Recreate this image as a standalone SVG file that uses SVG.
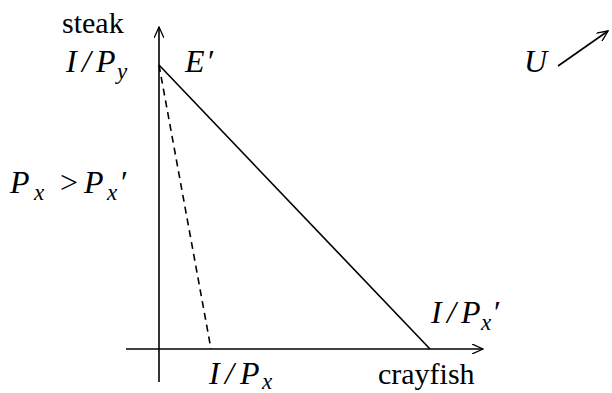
<svg xmlns="http://www.w3.org/2000/svg" width="612" height="393" viewBox="0 0 612 393">
<defs>
<marker id="ah" viewBox="0 0 12 10" refX="11" refY="5" markerWidth="12" markerHeight="10" markerUnits="userSpaceOnUse" orient="auto">
<path d="M0,0 L11,5 L0,10" fill="none" stroke="#000" stroke-width="1.3"/>
</marker>
<style>
.ln{stroke:#000;stroke-width:1.6;fill:none}
</style>
</defs>
<rect width="612" height="393" fill="#fff"/>
<g id="connectors">
<line class="ln" x1="159" y1="382" x2="159" y2="27" marker-end="url(#ah)"/>
<line class="ln" x1="126" y1="349" x2="483" y2="349" marker-end="url(#ah)"/>
<line class="ln" x1="159" y1="65" x2="430" y2="349"/>
<line class="ln" x1="159" y1="65" x2="211" y2="349" stroke-dasharray="7,5"/>
<line class="ln" x1="558" y1="66" x2="608" y2="31" marker-end="url(#ah)"/>
</g>
<g font-family="Liberation Serif, Times New Roman, serif" font-size="30" fill="#000">
<g id="steak"><text x="62" y="33">steak</text></g>
<g id="IPy"><text font-style="italic" font-size="32" x="66" y="72">I<tspan x="82">/</tspan><tspan x="96">P</tspan><tspan font-size="23" x="117" y="79">y</tspan></text></g>
<g id="Eprime"><text font-style="italic" font-size="32" x="185" y="72">E<tspan x="206">′</tspan></text></g>
<g id="U"><text font-style="italic" font-size="32" x="524" y="72">U</text></g>
<g id="ineq"><text font-style="italic" font-size="32" x="10" y="193">P<tspan font-size="23" x="34" y="200">x</tspan><tspan x="60" y="193" font-style="normal">&gt;</tspan><tspan x="84">P</tspan><tspan font-size="23" x="107" y="200">x</tspan><tspan x="119" y="193">′</tspan></text></g>
<g id="IPxprime"><text font-style="italic" font-size="32" x="431" y="323">I<tspan x="447">/</tspan><tspan x="461">P</tspan><tspan font-size="23" x="481" y="330">x</tspan><tspan x="492" y="323">′</tspan></text></g>
<g id="IPx"><text font-style="italic" font-size="32" x="209" y="384">I<tspan x="225">/</tspan><tspan x="240">P</tspan><tspan font-size="23" x="262" y="389">x</tspan></text></g>
<g id="crayfish"><text x="378" y="384">crayfish</text></g>
</g>
</svg>
